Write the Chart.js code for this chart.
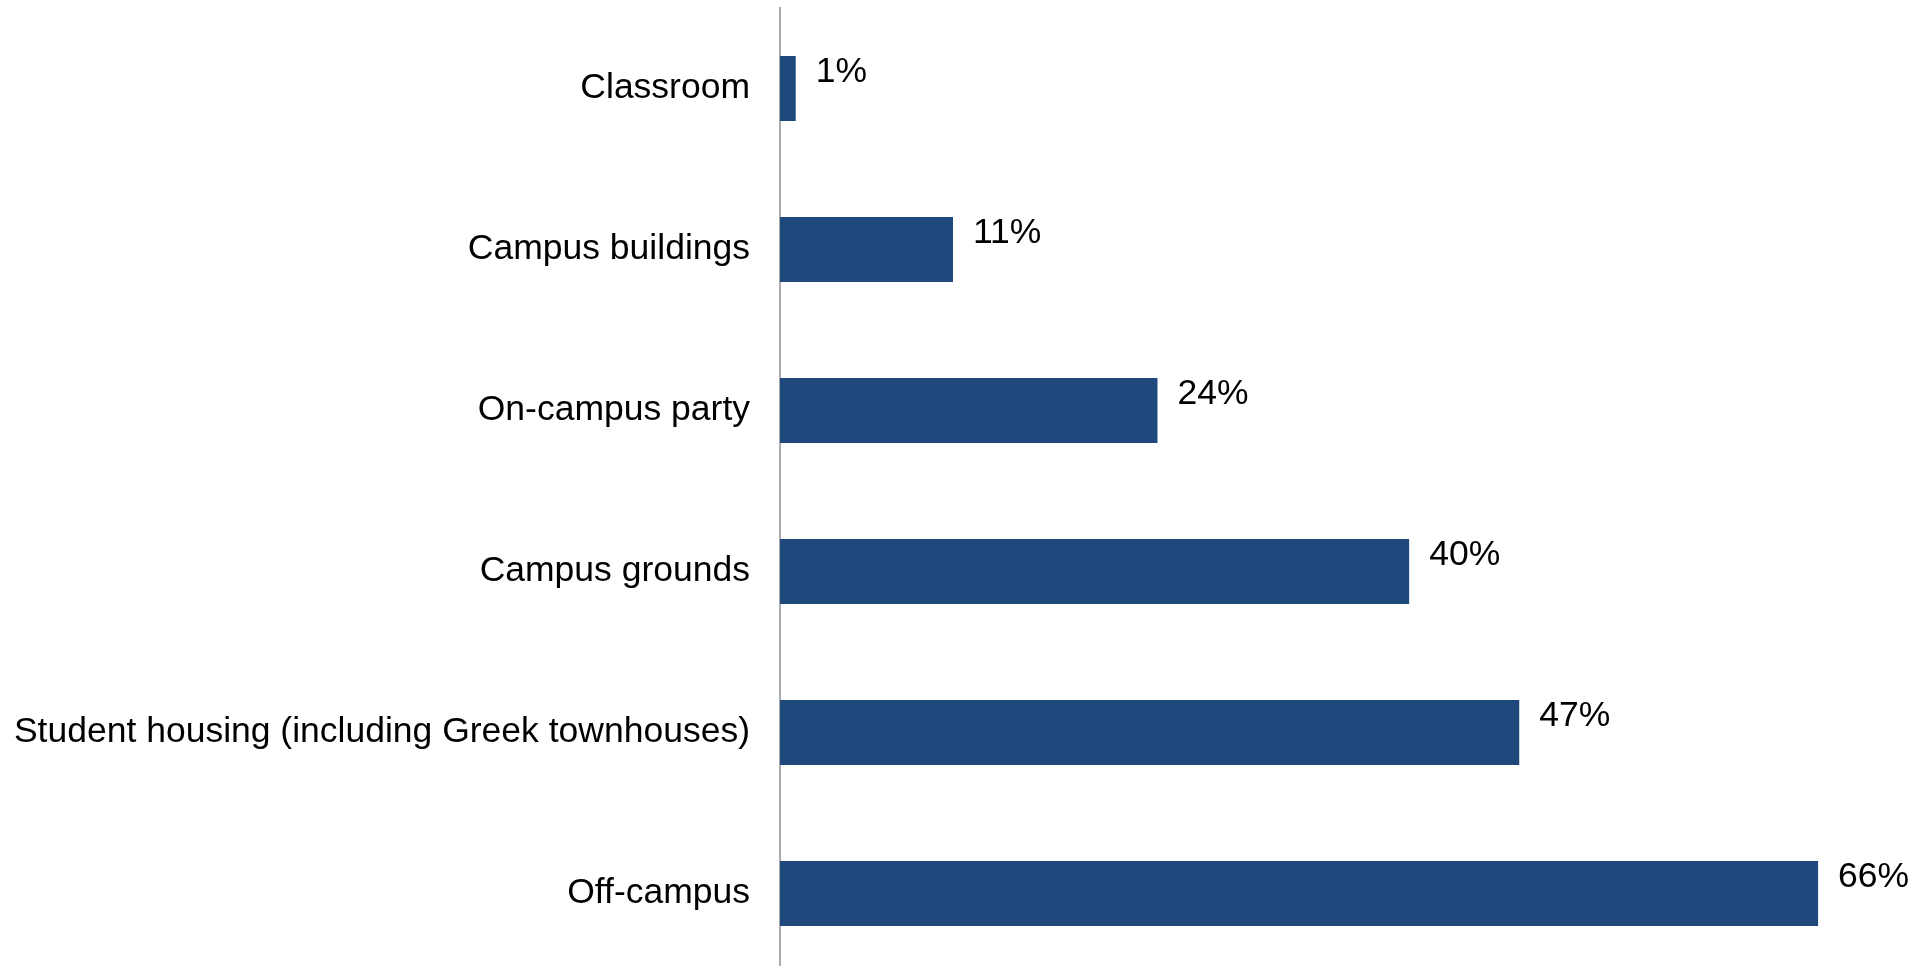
<!DOCTYPE html>
<html>
<head>
<meta charset="utf-8">
<script src="https://cdn.jsdelivr.net/npm/chart.js@4.4.0/dist/chart.umd.min.js"></script>
<style>
  html, body { margin: 0; padding: 0; background: #fff; overflow: hidden; }
  #wrap { position: absolute; left: 0; top: 0; width: 1927px; height: 974px; }
</style>
</head>
<body>
<div id="wrap"><canvas id="locationChart"></canvas></div>
<script>
// Chart data
const categories = [
  "Classroom",
  "Campus buildings",
  "On-campus party",
  "Campus grounds",
  "Student housing (including Greek townhouses)",
  "Off-campus",
];
const percentValues = [1, 11, 24, 40, 47, 66];

const barColor = "#1F497D";
const fontFamily = "'Liberation Sans', Arial, sans-serif";
const fontSize = 35.5;

// Draws "NN%" labels just past the end of each bar, a bit above center
const valueLabels = {
  id: "valueLabels",
  afterDatasetsDraw(chart) {
    const ctx = chart.ctx;
    const meta = chart.getDatasetMeta(0);
    ctx.save();
    ctx.font = fontSize + "px " + fontFamily;
    ctx.fillStyle = "#000";
    ctx.textAlign = "left";
    ctx.textBaseline = "middle";
    meta.data.forEach(function (bar, i) {
      ctx.fillText(percentValues[i] + "%", bar.x + 20, bar.y - 16);
    });
    ctx.restore();
  },
};

const ctx = document.getElementById("locationChart").getContext("2d");
new Chart(ctx, {
  type: "bar",
  data: {
    labels: categories,
    datasets: [
      {
        data: percentValues,
        backgroundColor: barColor,
        borderWidth: 0,
        categoryPercentage: 1,
        barPercentage: 0.404,
      },
    ],
  },
  options: {
    indexAxis: "y",
    responsive: true,
    maintainAspectRatio: false,
    animation: false,
    layout: {
      padding: { top: 8, right: 46, bottom: 0, left: 0 },
    },
    plugins: {
      legend: { display: false },
      tooltip: { enabled: false },
    },
    scales: {
      x: {
        min: 0,
        max: 70,
        display: false,
        grid: { display: false },
      },
      y: {
        grid: { display: false, drawTicks: false },
        border: { display: true, color: "#ABABAB", width: 2 },
        ticks: {
          padding: 30,
          color: "#000",
          font: { family: fontFamily, size: fontSize },
        },
        afterFit: function (scale) {
          scale.width = 780;
          // no extra room above/below for the first and last labels
          scale.paddingTop = 0;
          scale.paddingBottom = 0;
        },
      },
    },
  },
  plugins: [valueLabels],
});
</script>
</body>
</html>
